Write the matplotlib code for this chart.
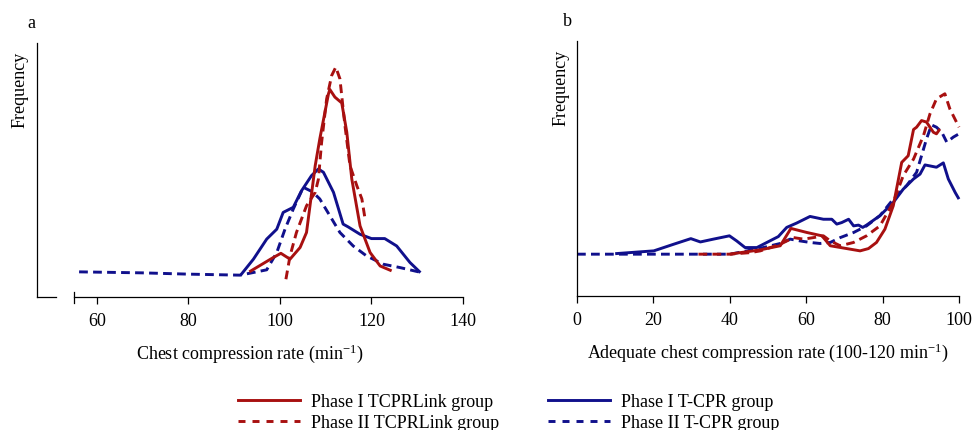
import matplotlib
matplotlib.use("Agg")
import matplotlib.pyplot as plt
from matplotlib.lines import Line2D

plt.rcParams['font.family'] = ['Liberation Serif', 'DejaVu Serif']
plt.rcParams['mathtext.fontset'] = 'custom'
plt.rcParams['mathtext.rm'] = 'Liberation Serif'
plt.rcParams['mathtext.it'] = 'Liberation Serif:italic'

RED = '#a81010'
BLUE = '#10108c'

# ---------------- Panel a: chest compression rate ----------------
a_p1_link_x = [93.3, 98.5, 100.2, 102.2, 104.4, 105.8, 107.7, 108.7, 110.6, 110.9, 112.0, 113.5, 114.6, 115.7, 117.5, 119.7, 121.9, 124.4]
a_p1_link_y = [0.099, 0.155, 0.172, 0.149, 0.195, 0.254, 0.517, 0.622, 0.800, 0.817, 0.787, 0.764, 0.649, 0.464, 0.280, 0.175, 0.122, 0.103]

a_p2_link_x = [101.3, 102.2, 103.6, 105.8, 107.7, 108.4, 109.1, 110.2, 111.3, 112.2, 113.1, 114.2, 115.3, 116.8, 117.9, 118.6]
a_p2_link_y = [0.070, 0.162, 0.254, 0.359, 0.412, 0.464, 0.609, 0.780, 0.872, 0.905, 0.859, 0.675, 0.517, 0.438, 0.386, 0.307]

a_p1_tcpr_x = [91.4, 94.2, 97.1, 99.3, 100.7, 101.8, 102.9, 104.7, 106.9, 108.4, 109.5, 111.7, 113.8, 114.9, 117.5, 120.0, 122.9, 125.5, 128.4, 130.7]
a_p1_tcpr_y = [0.086, 0.149, 0.228, 0.267, 0.333, 0.343, 0.353, 0.418, 0.478, 0.504, 0.491, 0.412, 0.287, 0.276, 0.247, 0.230, 0.230, 0.201, 0.136, 0.096]

a_p2_tcpr_x = [56.1, 70.0, 80.0, 91.3, 97.1, 99.3, 101.1, 102.9, 105.1, 107.1, 108.7, 110.9, 113.1, 116.0, 118.9, 122.6, 126.2, 131.0]
a_p2_tcpr_y = [0.099, 0.095, 0.090, 0.086, 0.107, 0.175, 0.267, 0.346, 0.432, 0.414, 0.386, 0.320, 0.254, 0.201, 0.162, 0.129, 0.116, 0.096]

a_ticks = [60, 80, 100, 120, 140]

# ---------------- Panel b: adequate rate percentage ----------------
b_p1_link_x = [40.0, 41.8, 48.0, 53.2, 56.0, 60.2, 64.1, 66.3, 70.6, 74.1, 76.3, 78.4, 80.6, 82.8, 85.0, 86.7, 88.1, 88.9, 90.2, 91.5, 93.3, 94.1, 95.0]
b_p1_link_y = [0.164, 0.168, 0.181, 0.197, 0.265, 0.249, 0.236, 0.197, 0.186, 0.177, 0.186, 0.210, 0.262, 0.354, 0.524, 0.550, 0.653, 0.662, 0.688, 0.682, 0.642, 0.636, 0.655]

b_p2_link_x = [31.8, 40.0, 45.3, 48.0, 53.2, 56.7, 59.3, 61.9, 64.5, 66.3, 68.9, 72.4, 75.8, 79.3, 82.8, 85.4, 88.1, 90.7, 92.4, 94.1, 96.3, 97.6, 98.9, 100.0]
b_p2_link_y = [0.164, 0.164, 0.170, 0.177, 0.203, 0.229, 0.223, 0.229, 0.236, 0.216, 0.197, 0.210, 0.236, 0.275, 0.367, 0.472, 0.537, 0.629, 0.714, 0.773, 0.793, 0.734, 0.695, 0.662]

b_p1_tcpr_x = [10.0, 20.1, 20.9, 25.3, 29.8, 32.3, 35.7, 39.9, 41.8, 44.0, 47.1, 49.7, 52.7, 54.9, 57.5, 61.0, 64.5, 66.7, 68.0, 69.3, 71.1, 72.4, 73.7, 74.8, 75.8, 79.3, 82.8, 85.4, 88.1, 89.8, 91.1, 94.1, 95.9, 97.2, 99.0, 100.0]
b_p1_tcpr_y = [0.166, 0.177, 0.181, 0.203, 0.225, 0.212, 0.223, 0.236, 0.216, 0.190, 0.190, 0.210, 0.233, 0.269, 0.286, 0.312, 0.301, 0.301, 0.282, 0.288, 0.301, 0.275, 0.278, 0.269, 0.278, 0.315, 0.367, 0.419, 0.459, 0.478, 0.514, 0.505, 0.522, 0.459, 0.406, 0.380]

b_p2_tcpr_x = [0.0, 20.0, 40.1, 44.5, 48.8, 53.2, 55.8, 58.4, 61.0, 63.6, 66.3, 68.9, 72.4, 75.8, 79.3, 82.8, 86.3, 88.9, 91.5, 92.8, 94.1, 95.5, 96.8, 98.5, 100.0]
b_p2_tcpr_y = [0.164, 0.164, 0.164, 0.177, 0.190, 0.206, 0.223, 0.216, 0.210, 0.206, 0.210, 0.229, 0.249, 0.275, 0.315, 0.380, 0.433, 0.485, 0.616, 0.671, 0.662, 0.642, 0.603, 0.623, 0.636]

b_ticks = [0, 20, 40, 60, 80, 100]

legend_labels = ['Phase I TCPRLink group', 'Phase II TCPRLink group',
                 'Phase I T-CPR group', 'Phase II T-CPR group']

LW = 2.1
DASH = (3.0, 1.8)
LEG_DASH = (2.4, 2.4)
FS = 13

fig = plt.figure(figsize=(9.76, 4.31), dpi=100)
axa = fig.add_axes([37/976, 1-298/431, 426/976, 254/431])
axb = fig.add_axes([577/976, 1-297/431, 382/976, 255/431])

def series(ax, x, y, color, dashed):
    ln, = ax.plot(x, y, color=color, lw=LW, solid_capstyle='butt', clip_on=False)
    if dashed:
        ln.set_dashes(DASH)
    return ln

# panel a
series(axa, a_p2_tcpr_x, a_p2_tcpr_y, BLUE, True)
series(axa, a_p1_tcpr_x, a_p1_tcpr_y, BLUE, False)
series(axa, a_p1_link_x, a_p1_link_y, RED, False)
series(axa, a_p2_link_x, a_p2_link_y, RED, True)

axa.set_xlim(46.9, 140)
axa.set_ylim(0, 1)
axa.set_xticks(a_ticks)
axa.set_yticks([])
for s in ['top', 'right']:
    axa.spines[s].set_visible(False)
axa.spines['bottom'].set_bounds(55, 140)
for s in ['left', 'bottom']:
    axa.spines[s].set_linewidth(0.9)
# short baseline stub at left and end tick of the x axis
axa.plot([46.9, 51.0], [0, 0], color='black', lw=0.9, clip_on=False)
axa.plot([55, 55], [-0.025, 0.02], color='black', lw=0.9, clip_on=False)
axa.tick_params(axis='x', direction='out', length=5, width=0.9, labelsize=FS, pad=6)
axa.set_xlabel('Chest compression rate (min$^{\\mathrm{-1}}$)', fontsize=FS, labelpad=9)
axa.text(-0.041, 0.82, 'Frequency', rotation=90, transform=axa.transAxes,
         ha='center', va='center', fontsize=FS)
fig.text(31/976, 1-23/431, 'a', fontsize=FS, ha='center', va='center')

# panel b
series(axb, b_p2_tcpr_x, b_p2_tcpr_y, BLUE, True)
series(axb, b_p1_tcpr_x, b_p1_tcpr_y, BLUE, False)
series(axb, b_p1_link_x, b_p1_link_y, RED, False)
series(axb, b_p2_link_x, b_p2_link_y, RED, True)

axb.set_xlim(0, 100)
axb.set_ylim(0, 1)
axb.set_xticks(b_ticks)
axb.set_yticks([])
for s in ['top', 'right']:
    axb.spines[s].set_visible(False)
for s in ['left', 'bottom']:
    axb.spines[s].set_linewidth(0.9)
axb.tick_params(axis='x', direction='out', length=5, width=0.9, labelsize=FS, pad=6)
axb.set_xlabel('Adequate chest compression rate (100-120 min$^{\\mathrm{-1}}$)', fontsize=FS, labelpad=9)
axb.text(-0.043, 0.82, 'Frequency', rotation=90, transform=axb.transAxes,
         ha='center', va='center', fontsize=FS)
fig.text(567/976, 1-21/431, 'b', fontsize=FS, ha='center', va='center')

handles = [Line2D([], [], color=RED, lw=LW),
           Line2D([], [], color=RED, lw=LW, dashes=LEG_DASH),
           Line2D([], [], color=BLUE, lw=LW),
           Line2D([], [], color=BLUE, lw=LW, dashes=LEG_DASH)]
fig.legend(handles, legend_labels, ncol=2, frameon=False, fontsize=FS,
           loc='upper left', bbox_to_anchor=(238/976, 1-394/431),
           handlelength=3.45, handletextpad=0.6, columnspacing=2.7,
           labelspacing=0.22, borderaxespad=0, borderpad=0)

fig.savefig('out.png', dpi=100)
